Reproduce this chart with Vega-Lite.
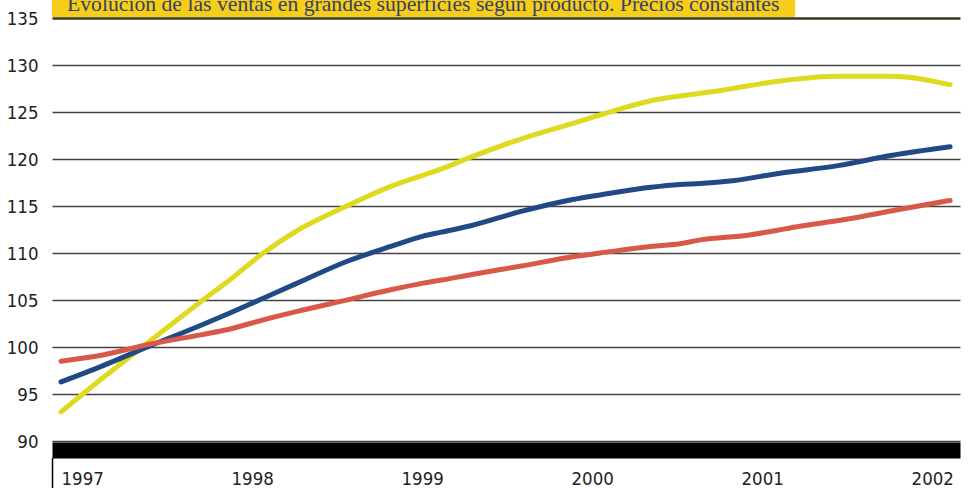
{
  "$schema": "https://vega.github.io/schema/vega-lite/v6.json",
  "width": 908,
  "height": 450,
  "autosize": {"type": "none"},
  "padding": {"left": 52, "top": 0, "right": 12, "bottom": 38},
  "background": "white",
  "config": {
    "view": {"stroke": null},
    "axisX": {"title": null, "labelFont": "DejaVu Sans Condensed", "labelFontSize": 18.5, "labelColor": "#222222", "ticks": false, "tickSize": 0, "grid": false, "domainColor": "#000000", "domainWidth": 16, "labelAlign": "left", "labelBaseline": "top", "labelPadding": 19, "labelFlush": false, "labelBound": false, "labelOverlap": false},
    "axisY": {"title": null, "labelFont": "DejaVu Sans Condensed", "labelFontSize": 18.5, "labelColor": "#222222", "ticks": false, "domain": false, "labelPadding": 14, "labelOverlap": false}
  },
  "layer": [
    {
      "data": {
        "values": [
          {"t": 1997.00, "serie": "Resto", "v": 93.1},
          {"t": 1997.23, "serie": "Resto", "v": 96.5},
          {"t": 1997.52, "serie": "Resto", "v": 100.6},
          {"t": 1997.82, "serie": "Resto", "v": 104.8},
          {"t": 1997.99, "serie": "Resto", "v": 107.1},
          {"t": 1998.19, "serie": "Resto", "v": 110.0},
          {"t": 1998.39, "serie": "Resto", "v": 112.4},
          {"t": 1998.68, "serie": "Resto", "v": 115.0},
          {"t": 1998.94, "serie": "Resto", "v": 117.1},
          {"t": 1999.13, "serie": "Resto", "v": 118.3},
          {"t": 1999.23, "serie": "Resto", "v": 118.9},
          {"t": 1999.41, "serie": "Resto", "v": 120.2},
          {"t": 1999.70, "serie": "Resto", "v": 122.1},
          {"t": 2000.01, "serie": "Resto", "v": 123.8},
          {"t": 2000.21, "serie": "Resto", "v": 124.9},
          {"t": 2000.47, "serie": "Resto", "v": 126.2},
          {"t": 2000.64, "serie": "Resto", "v": 126.7},
          {"t": 2000.76, "serie": "Resto", "v": 127.0},
          {"t": 2000.88, "serie": "Resto", "v": 127.3},
          {"t": 2001.23, "serie": "Resto", "v": 128.3},
          {"t": 2001.57, "serie": "Resto", "v": 128.8},
          {"t": 2001.89, "serie": "Resto", "v": 128.8},
          {"t": 2002.23, "serie": "Resto", "v": 127.9},
          {"t": 1997.00, "serie": "Total", "v": 96.3},
          {"t": 1997.23, "serie": "Total", "v": 97.9},
          {"t": 1997.52, "serie": "Total", "v": 100.1},
          {"t": 1997.82, "serie": "Total", "v": 102.3},
          {"t": 1997.99, "serie": "Total", "v": 103.6},
          {"t": 1998.19, "serie": "Total", "v": 105.2},
          {"t": 1998.39, "serie": "Total", "v": 106.8},
          {"t": 1998.68, "serie": "Total", "v": 109.1},
          {"t": 1998.94, "serie": "Total", "v": 110.7},
          {"t": 1999.13, "serie": "Total", "v": 111.8},
          {"t": 1999.23, "serie": "Total", "v": 112.2},
          {"t": 1999.41, "serie": "Total", "v": 112.9},
          {"t": 1999.70, "serie": "Total", "v": 114.4},
          {"t": 2000.01, "serie": "Total", "v": 115.7},
          {"t": 2000.21, "serie": "Total", "v": 116.3},
          {"t": 2000.47, "serie": "Total", "v": 117.0},
          {"t": 2000.64, "serie": "Total", "v": 117.3},
          {"t": 2000.76, "serie": "Total", "v": 117.4},
          {"t": 2000.95, "serie": "Total", "v": 117.7},
          {"t": 2001.23, "serie": "Total", "v": 118.5},
          {"t": 2001.57, "serie": "Total", "v": 119.3},
          {"t": 2001.89, "serie": "Total", "v": 120.4},
          {"t": 2002.23, "serie": "Total", "v": 121.3},
          {"t": 1997.00, "serie": "Alimentación", "v": 98.5},
          {"t": 1997.23, "serie": "Alimentación", "v": 99.1},
          {"t": 1997.52, "serie": "Alimentación", "v": 100.3},
          {"t": 1997.82, "serie": "Alimentación", "v": 101.3},
          {"t": 1997.99, "serie": "Alimentación", "v": 101.9},
          {"t": 1998.19, "serie": "Alimentación", "v": 102.9},
          {"t": 1998.39, "serie": "Alimentación", "v": 103.8},
          {"t": 1998.68, "serie": "Alimentación", "v": 105.0},
          {"t": 1998.94, "serie": "Alimentación", "v": 106.1},
          {"t": 1999.13, "serie": "Alimentación", "v": 106.8},
          {"t": 1999.23, "serie": "Alimentación", "v": 107.1},
          {"t": 1999.41, "serie": "Alimentación", "v": 107.7},
          {"t": 1999.70, "serie": "Alimentación", "v": 108.6},
          {"t": 2000.01, "serie": "Alimentación", "v": 109.6},
          {"t": 2000.21, "serie": "Alimentación", "v": 110.1},
          {"t": 2000.47, "serie": "Alimentación", "v": 110.7},
          {"t": 2000.64, "serie": "Alimentación", "v": 111.0},
          {"t": 2000.76, "serie": "Alimentación", "v": 111.4},
          {"t": 2001.04, "serie": "Alimentación", "v": 111.9},
          {"t": 2001.33, "serie": "Alimentación", "v": 112.8},
          {"t": 2001.62, "serie": "Alimentación", "v": 113.6},
          {"t": 2001.92, "serie": "Alimentación", "v": 114.6},
          {"t": 2002.23, "serie": "Alimentación", "v": 115.6}
        ]
      },
      "mark": {"type": "line", "strokeWidth": 5, "strokeCap": "round", "strokeJoin": "round", "interpolate": "monotone"},
      "encoding": {
        "x": {"field": "t", "type": "quantitative", "title": null,
              "scale": {"domain": [1996.947, 2002.288], "nice": false, "zero": false},
              "axis": {"values": [1997, 1998, 1999, 2000, 2001, 2002], "format": "d"}},
        "y": {"field": "v", "type": "quantitative", "title": null,
              "scale": {"domain": [89.05, 136.92], "nice": false, "zero": false},
              "axis": {"values": [90, 95, 100, 105, 110, 115, 120, 125, 130, 135], "grid": true,
                       "gridColor": {"condition": {"test": "datum.value === 135", "value": "#3a3626"}, "value": "#444444"},
                       "gridWidth": {"condition": {"test": "datum.value === 135", "value": 2.5}, "value": 1.5}}},
        "color": {"field": "serie", "type": "nominal", "legend": null,
                  "scale": {"domain": ["Resto", "Total", "Alimentación"], "range": ["#dfda1f", "#1f4a86", "#d8584a"]}}
      }
    },
    {
      "data": {"values": [{}]},
      "mark": {"type": "rect", "color": "#f6cd18"},
      "encoding": {
        "x": {"datum": 1996.947, "type": "quantitative", "title": null},
        "x2": {"datum": 2001.318},
        "y": {"datum": 135.12, "type": "quantitative", "title": null},
        "y2": {"datum": 136.92}
      }
    },
    {
      "data": {"values": [{}]},
      "mark": {"type": "text", "align": "left", "baseline": "alphabetic", "font": "Liberation Serif", "fontSize": 21.7, "color": "#34416b"},
      "encoding": {
        "x": {"datum": 1997.035, "type": "quantitative", "title": null},
        "y": {"datum": 135.7, "type": "quantitative", "title": null},
        "text": {"value": "Evolución de las ventas en grandes superficies según producto. Precios constantes"}
      }
    },
    {
      "data": {"values": [{}]},
      "mark": {"type": "rule", "color": "#000000", "strokeWidth": 1.5},
      "encoding": {
        "x": {"datum": 1996.95, "type": "quantitative", "title": null},
        "y": {"datum": 88.2, "type": "quantitative", "title": null},
        "y2": {"datum": 84.8}
      }
    }
  ]
}
